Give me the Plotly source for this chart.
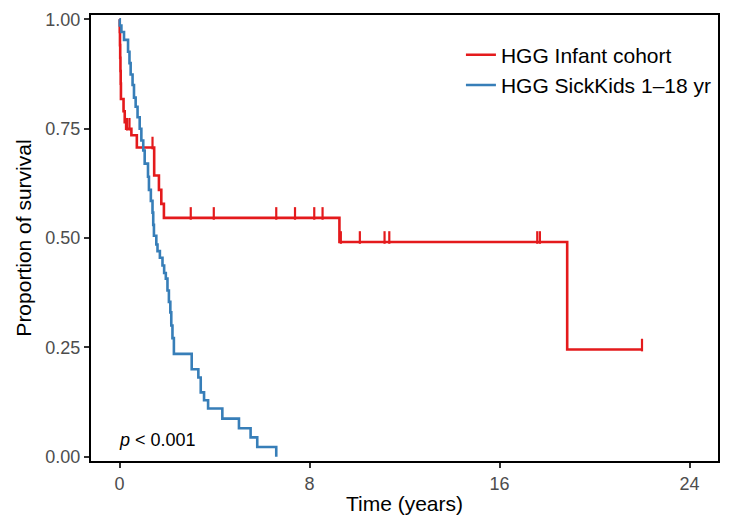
import numpy as np
import plotly.graph_objects as go

# ---- data ----
red_name = "HGG Infant cohort"
blue_name = "HGG SickKids 1\u201318 yr"

red_time = [0.0, 0.01, 0.02, 0.03, 0.04, 0.05, 0.06, 0.17, 0.22, 0.28, 0.50, 0.73,
            1.46, 1.66, 1.76, 1.87, 9.26, 18.85, 22.0]
red_surv = [1.0, 0.971, 0.941, 0.912, 0.882, 0.853, 0.818, 0.790, 0.765, 0.750, 0.735, 0.707,
            0.643, 0.610, 0.578, 0.546, 0.491, 0.245, 0.245]
red_censor_time = [0.32, 0.42, 1.39, 3.0, 3.97, 6.6, 7.39, 8.2, 8.55, 9.32, 10.12,
                   11.16, 11.36, 17.59, 17.7, 22.0]

blue_time = [0.0, 0.01, 0.08, 0.19, 0.36, 0.42, 0.47, 0.55, 0.61, 0.68, 0.76, 0.85, 0.92,
             1.0, 1.06, 1.2, 1.24, 1.32, 1.39, 1.42, 1.45, 1.55, 1.6, 1.7, 1.81, 1.88,
             1.95, 2.02, 2.08, 2.14, 2.18, 2.23, 2.29, 3.04, 3.32, 3.42, 3.56, 3.73,
             4.33, 5.03, 5.52, 5.80, 6.60]
blue_surv = [1.0, 0.986, 0.971, 0.953, 0.926, 0.90, 0.874, 0.85, 0.821, 0.80, 0.776, 0.75,
             0.723, 0.70, 0.670, 0.64, 0.61, 0.585, 0.558, 0.53, 0.505, 0.485, 0.47, 0.455,
             0.437, 0.42, 0.407, 0.38, 0.354, 0.33, 0.30, 0.271, 0.235, 0.200, 0.181,
             0.147, 0.129, 0.110, 0.087, 0.065, 0.044, 0.022, 0.0]

x_ticks = [0, 8, 16, 24]
y_ticks = [0.0, 0.25, 0.50, 0.75, 1.00]
y_ticktext = ["0.00", "0.25", "0.50", "0.75", "1.00"]
p_text = "<i>p</i> < 0.001"

# ---- style ----
RED = "#E41A1C"
BLUE = "#377EB8"
FONT = "Liberation Sans, Arial, Helvetica, sans-serif"
X_RANGE = [-1.2, 25.2]
Y_RANGE = [-0.01, 1.01]
W, H = 732, 522
M = dict(l=91, r=14, t=10, b=60)
plot_h = H - M["t"] - M["b"]
tick_px = 9
offset = (tick_px / 2) * (Y_RANGE[1] - Y_RANGE[0]) / plot_h

# survival at censor times via step lookup
rt = np.array(red_time)
rs = np.array(red_surv)
idx = np.searchsorted(rt, np.array(red_censor_time), side="right") - 1
red_censor_surv = rs[idx] + offset

fig = go.Figure()
fig.add_trace(go.Scatter(x=red_time, y=red_surv, mode="lines", line=dict(color=RED, width=2.6, shape="hv"),
                         name=red_name))
fig.add_trace(go.Scatter(x=blue_time, y=blue_surv, mode="lines", line=dict(color=BLUE, width=2.6, shape="hv"),
                         name=blue_name))
fig.add_trace(go.Scatter(x=red_censor_time, y=red_censor_surv, mode="markers", showlegend=False,
                         marker=dict(symbol="line-ns", size=tick_px, color=RED,
                                     line=dict(width=2.2, color=RED))))

fig.add_annotation(x=0, y=0.038, xref="x", yref="y", text=p_text, showarrow=False, xshift=-3,
                   xanchor="left", yanchor="middle", font=dict(family=FONT, size=18, color="black"))

axis_common = dict(showgrid=False, zeroline=False, showline=True, linecolor="black", linewidth=2,
                   mirror=True, ticks="outside", ticklen=5, tickwidth=1.5, tickcolor="#333333",
                   tickfont=dict(family=FONT, size=18, color="#4D4D4D"))

fig.update_layout(
    width=W, height=H, margin=M,
    paper_bgcolor="white", plot_bgcolor="white",
    font=dict(family=FONT, color="black"),
    xaxis=dict(range=X_RANGE, tickvals=x_ticks, **axis_common,
               title=dict(text="Time (years)", font=dict(family=FONT, size=21, color="black"), standoff=4)),
    yaxis=dict(range=Y_RANGE, tickvals=y_ticks, ticktext=y_ticktext, **axis_common,
               title=dict(text="Proportion of survival", font=dict(family=FONT, size=21, color="black"), standoff=8)),
    legend=dict(x=0.59, y=0.956, xanchor="left", yanchor="top", bgcolor="rgba(0,0,0,0)",
                font=dict(family=FONT, size=21, color="black")),
)

fig.write_html("out.html")
